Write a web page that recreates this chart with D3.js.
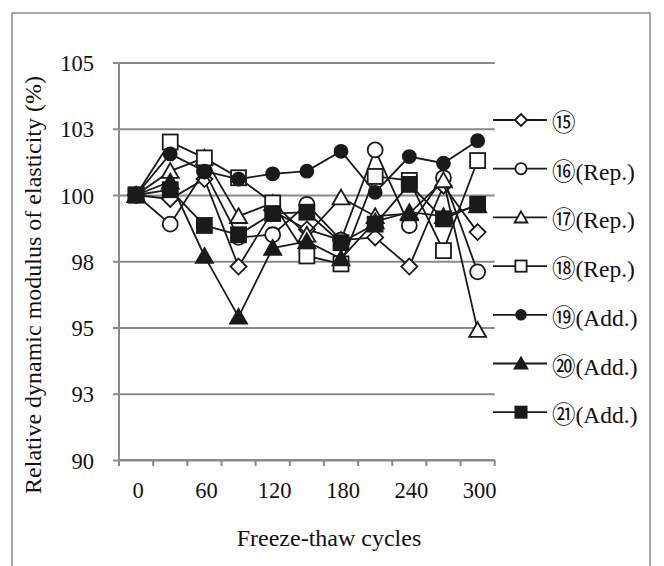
<!DOCTYPE html>
<html><head><meta charset="utf-8">
<script src="https://cdn.jsdelivr.net/npm/d3@7"></script>
<style>body{margin:0;background:#fff}svg{display:block}</style>
</head><body>
<svg id="c" width="664" height="566"></svg>
<script>
const cycles = [0,30,60,90,120,150,180,210,240,270,300];
const xTickLabels = [0,60,120,180,240,300];
const yTickValues = [90,92.5,95,97.5,100,102.5,105];
const yTickLabels = ["90","93","95","98","100","103","105"];
const seriesNames = ["⑮","⑯(Rep.)","⑰(Rep.)","⑱(Rep.)","⑲(Add.)","⑳(Add.)","㉑(Add.)"];
const seriesMarkers = ["diamond","circleOpen","triangleOpen","squareOpen","circleFilled","triangleFilled","squareFilled"];
const s15 = [100, 99.85, 100.6, 97.3, 99.4, 98.7, 98.3, 98.4, 97.3, 100.35, 98.6];
const s16 = [100, 98.9, 100.9, 98.4, 98.5, 99.65, 98.3, 101.7, 98.85, 100.65, 97.1];
const s17 = [100, 100.9, 101.4, 99.2, 99.7, 98.5, 99.9, 99.2, 99.3, 100.55, 94.9];
const s18 = [100, 102.0, 101.4, 100.65, 99.7, 97.7, 97.4, 100.7, 100.55, 97.9, 101.3];
const s19 = [100, 101.55, 100.9, 100.6, 100.8, 100.9, 101.65, 100.1, 101.45, 101.2, 102.05];
const s20 = [100, 100.5, 97.7, 95.4, 98.0, 98.25, 97.6, 99.0, 99.35, 99.2, 99.6];
const s21 = [100, 100.2, 98.85, 98.5, 99.3, 99.35, 98.2, 98.9, 100.4, 99.1, 99.65];
const seriesValues = [s15,s16,s17,s18,s19,s20,s21];

const FONT = '"Liberation Serif","Noto Sans CJK JP",serif';
const svg = d3.select("#c");
const L=119, R=494.7, T=62.5, B=460;
const x = d3.scaleBand().domain(cycles).range([L,R]);
const xc = v => x(v) + x.bandwidth()/2;
const y = d3.scaleLinear().domain([90,105]).range([B,T]);

// outer border
svg.append("rect").attr("x",12).attr("y",13).attr("width",638).attr("height",580)
  .attr("fill","none").attr("stroke","#8a8a8a").attr("stroke-width",1.5);

// gridlines + y ticks
const yAxis = d3.axisLeft(y).tickValues(yTickValues).tickSize(-(R-L))
  .tickFormat((d,i)=>yTickLabels[i]);
const gy = svg.append("g").attr("transform",`translate(${L},0)`).call(yAxis);
gy.select(".domain").remove();
gy.selectAll(".tick line").attr("stroke","#8a8a8a").attr("stroke-width",2).attr("x1",-6);
gy.selectAll(".tick text").attr("font-family",FONT).attr("font-size",22.5).attr("fill","#111")
  .attr("x",-25).attr("dy","0.36em");
// y axis line
svg.append("line").attr("x1",L).attr("x2",L).attr("y1",T).attr("y2",B).attr("stroke","#8a8a8a").attr("stroke-width",2);

// x axis: ticks at category boundaries
const bounds = cycles.map(c=>x(c)).concat([R]);
const gx = svg.append("g");
gx.append("line").attr("x1",L).attr("x2",R).attr("y1",B).attr("y2",B).attr("stroke","#8a8a8a").attr("stroke-width",2);
gx.selectAll("line.t").data(bounds).join("line").attr("class","t")
  .attr("x1",d=>d).attr("x2",d=>d).attr("y1",B).attr("y2",B+6).attr("stroke","#8a8a8a").attr("stroke-width",2);
gx.selectAll("text").data(xTickLabels).join("text")
  .attr("x",d=>xc(d)+2).attr("y",498).attr("text-anchor","middle")
  .attr("font-family",FONT).attr("font-size",22.5).attr("fill","#111").text(d=>d);

// axis titles
svg.append("text").attr("x",329).attr("y",546).attr("text-anchor","middle")
  .attr("font-family",FONT).attr("font-size",24).attr("fill","#111").text("Freeze-thaw cycles");
svg.append("text").attr("transform",`translate(41,285) rotate(-90)`).attr("text-anchor","middle")
  .attr("font-family",FONT).attr("font-size",24).attr("fill","#111").text("Relative dynamic modulus of elasticity (%)");

function marker(g, type, cx, cy, s){
  const k = s||1;
  let sel;
  if(type==="diamond"){
    const r=8*k;
    sel=g.append("path").attr("d",`M${cx},${cy-r}L${cx+r},${cy}L${cx},${cy+r}L${cx-r},${cy}Z`).attr("fill","#fff");
  } else if(type==="circleOpen"||type==="circleFilled"){
    sel=g.append("circle").attr("cx",cx).attr("cy",cy).attr("r",(type==="circleOpen"?7.5:6.5)*k)
      .attr("fill",type==="circleOpen"?"#fff":"#1a1a1a");
  } else if(type==="triangleOpen"||type==="triangleFilled"){
    const w=8.5*k, h=8*k;
    sel=g.append("path").attr("d",`M${cx},${cy-h}L${cx+w},${cy+h*0.85}L${cx-w},${cy+h*0.85}Z`)
      .attr("fill",type==="triangleOpen"?"#fff":"#1a1a1a");
  } else {
    const r=7.5*k;
    sel=g.append("rect").attr("x",cx-r).attr("y",cy-r).attr("width",2*r).attr("height",2*r)
      .attr("fill",type==="squareOpen"?"#fff":"#1a1a1a");
  }
  sel.attr("stroke","#1a1a1a").attr("stroke-width",1.8);
}

const line = d3.line().x((d,i)=>xc(cycles[i])).y(d=>y(d));
seriesValues.forEach((vals,si)=>{
  const g = svg.append("g");
  g.append("path").datum(vals).attr("d",line).attr("fill","none").attr("stroke","#1a1a1a").attr("stroke-width",1.8);
  vals.forEach((v,i)=>marker(g, seriesMarkers[si], xc(cycles[i]), y(v)));
});

// legend
const lg = svg.append("g");
seriesNames.forEach((n,i)=>{
  const ly = 120 + i*48.7;
  lg.append("line").attr("x1",493).attr("x2",547).attr("y1",ly).attr("y2",ly).attr("stroke","#1a1a1a").attr("stroke-width",1.8);
  marker(lg, seriesMarkers[i], 521, ly, 0.75);
  lg.append("text").attr("x",552).attr("y",ly+11).attr("font-family",FONT).attr("font-size",23.5).attr("fill","#111").text(n);
});
</script>
</body></html>
